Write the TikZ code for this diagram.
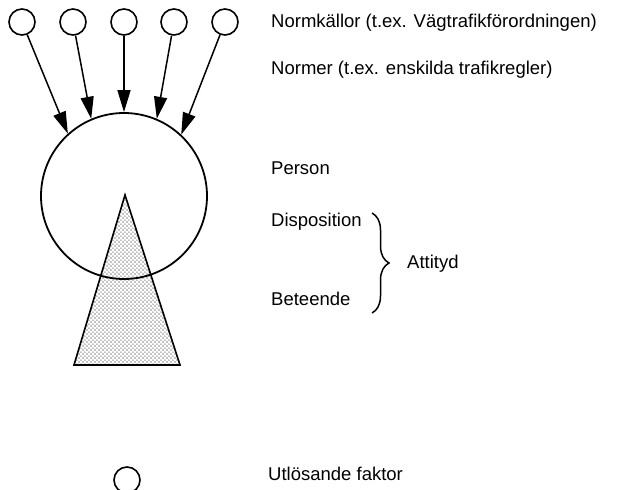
\documentclass[tikz,border=0pt]{standalone}
\usepackage{fontspec}
\setmainfont{Liberation Sans}
\usetikzlibrary{arrows.meta,patterns,decorations.pathreplacing}
\pgfdeclarepatternformonly{stipple}{\pgfpointorigin}{\pgfpoint{4.4pt}{4.4pt}}{\pgfpoint{4.4pt}{4.4pt}}{%
  \pgfpathcircle{\pgfpoint{1.1pt}{1.1pt}}{0.65pt}%
  \pgfpathcircle{\pgfpoint{3.3pt}{3.3pt}}{0.65pt}%
  \pgfusepath{fill}}
\begin{document}
\begin{tikzpicture}[x=1pt,y=-1pt,
  src/.style={circle,draw,line width=1.6pt,minimum size=26pt,inner sep=0pt},
  lbl/.style={anchor=west,inner sep=0pt,font=\fontsize{18.5}{21}\selectfont},
  arr/.style={line width=1.5pt,-{Triangle[length=22pt,width=13pt]}}]
\useasboundingbox (0,0) rectangle (619,490);
% triangle (behaviour)
\path[draw,line width=1.6pt,pattern=stipple,line join=miter]
  (125,195) coordinate (apex) -- (180,365) coordinate (br) -- (74,365) coordinate (bl) -- cycle;
% person circle
\node[circle,draw,line width=1.8pt,minimum size=166pt,inner sep=0pt] (big) at (124,196) {};
% norm sources
\node[src] (s1) at (22,22) {};
\node[src] (s2) at (73,22) {};
\node[src] (s3) at (124,22) {};
\node[src] (s4) at (174,22) {};
\node[src] (s5) at (225,22) {};
\draw[arr] (s1) -- (big.132);
\draw[arr] (s2) -- (big.113);
\draw[arr] (s3) -- (big.90);
\draw[arr] (s4) -- (big.67);
\draw[arr] (s5) -- (big.47);
% trigger
\node[src] (trig) at (127,480) {};
% labels
\node[lbl] (t1) at (271,23) {Normkällor (t.ex. Vägtrafikförordningen)};
\node[lbl] (t2) at (271,70) {Normer (t.ex. enskilda trafikregler)};
\node[lbl] (t3) at (271,168) {Person};
\node[lbl] (t4) at (271,222) {Disposition};
\node[lbl] (t5) at (271,299) {Beteende};
\coordinate (btop) at (372,213);
\coordinate (bbot) at (372,313);
\draw[line width=1.5pt,decorate,decoration={brace,amplitude=17pt}] (btop) -- (bbot);
\node[lbl] (t6) at (407,264) {Attityd};
\node[lbl] (t7) at (268,474) {Utlösande faktor};
\end{tikzpicture}
\end{document}
